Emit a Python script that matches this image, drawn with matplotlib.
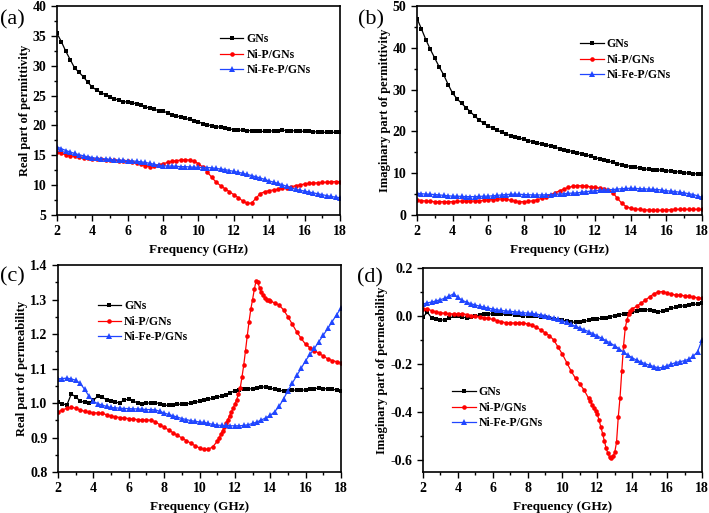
import matplotlib
matplotlib.use("Agg")
import matplotlib.pyplot as plt
import numpy as np
from matplotlib.ticker import MultipleLocator

plt.rcParams['font.family'] = 'Liberation Serif'
plt.rcParams['axes.unicode_minus'] = False

# common frequency grid (GHz)
freq = np.arange(8, 73) / 4.0
# finer grids where the Ni-P curves change fast
freq_nip_c = np.r_[np.arange(8, 44) / 4.0, np.arange(110, 140) / 10.0, np.arange(56, 73) / 4.0]
freq_nip_d = np.r_[np.arange(8, 46) / 4.0, np.arange(115, 140) / 10.0, np.arange(56, 73) / 4.0]

labels = ['GNs', 'Ni-P/GNs', 'Ni-Fe-P/GNs']

# (a) real part of permittivity
eps_re_gns = [35.4, 34.0, 32.4, 31.0, 29.6, 28.9, 28.1, 27.2,
              26.4, 25.9, 25.5, 25.1, 24.8, 24.5, 24.2, 24.0,
              23.9, 23.8, 23.6, 23.4, 23.1, 22.9, 22.7, 22.5,
              22.4, 22.1, 21.8, 21.6, 21.4, 21.2, 21.0, 20.8,
              20.6, 20.3, 20.1, 19.95, 19.8, 19.7, 19.55, 19.4,
              19.3, 19.2, 19.2, 19.15, 19.1, 19.05, 19.0, 19.0,
              19.05, 19.1, 19.15, 19.2, 19.15, 19.1, 19.1, 19.05,
              19.0, 19.0, 18.95, 18.9, 18.85, 18.85, 18.85, 18.85,
              18.9]
eps_re_nip = [15.5, 15.3, 15.1, 14.95, 14.8, 14.7, 14.6, 14.5,
              14.4, 14.35, 14.3, 14.25, 14.2, 14.15, 14.1, 14.05,
              14.0, 13.9, 13.75, 13.5, 13.25, 13.1, 13.2, 13.4,
              13.6, 13.8, 14.0, 14.1, 14.2, 14.25, 14.2, 14.0,
              13.6, 13.0, 12.2, 11.3, 10.5, 9.9, 9.4, 8.9,
              8.4, 7.9, 7.35, 6.95, 7.0, 7.8, 8.6, 8.9,
              9.1, 9.2, 9.3, 9.45, 9.6, 9.75, 9.9, 10.05,
              10.2, 10.3, 10.35, 10.4, 10.45, 10.5, 10.55, 10.6,
              10.6]
eps_re_nifep = [16.4, 16.1, 15.8, 15.55, 15.3, 15.1, 14.9, 14.75,
                14.6, 14.5, 14.45, 14.4, 14.3, 14.25, 14.2, 14.15,
                14.1, 14.05, 14.0, 13.9, 13.8, 13.65, 13.5, 13.35,
                13.25, 13.2, 13.2, 13.15, 13.1, 13.1, 13.05, 13.0,
                13.0, 12.95, 12.95, 12.9, 12.8, 12.7, 12.6, 12.45,
                12.3, 12.15, 12.0, 11.8, 11.6, 11.4, 11.2, 10.95,
                10.7, 10.5, 10.3, 10.05, 9.8, 9.55, 9.3, 9.15,
                9.0, 8.85, 8.7, 8.55, 8.4, 8.25, 8.1, 8.0,
                7.9]

# (b) imaginary part of permittivity
eps_im_gns = [47.0, 44.5, 41.9, 39.6, 37.5, 35.4, 33.5, 31.2,
              29.1, 27.8, 26.7, 25.7, 24.7, 23.6, 22.7, 21.9,
              21.3, 20.8, 20.3, 19.8, 19.3, 19.0, 18.7, 18.4,
              18.1, 17.8, 17.5, 17.2, 17.0, 16.8, 16.5, 16.2,
              15.9, 15.65, 15.4, 15.15, 14.9, 14.65, 14.4, 14.05,
              13.7, 13.45, 13.2, 12.9, 12.6, 12.3, 12.0, 11.8,
              11.6, 11.4, 11.2, 11.05, 10.9, 10.85, 10.8, 10.7,
              10.6, 10.5, 10.4, 10.25, 10.1, 10.0, 9.9, 9.8,
              9.7]
eps_im_nip = [3.6, 3.45, 3.35, 3.25, 3.2, 3.2, 3.2, 3.2,
              3.2, 3.25, 3.3, 3.3, 3.3, 3.35, 3.4, 3.5,
              3.6, 3.7, 3.8, 3.85, 3.8, 3.55, 3.35, 3.2,
              3.2, 3.25, 3.4, 3.65, 4.0, 4.4, 4.8, 5.3,
              5.8, 6.2, 6.6, 6.85, 7.0, 7.0, 6.9, 6.75,
              6.6, 6.45, 6.3, 5.9, 5.3, 4.0, 2.8, 2.0,
              1.6, 1.45, 1.35, 1.25, 1.2, 1.1, 1.1, 1.15,
              1.2, 1.3, 1.35, 1.35, 1.35, 1.35, 1.35, 1.35,
              1.35]
eps_im_nifep = [5.2, 5.1, 5.0, 4.95, 4.9, 4.8, 4.7, 4.6,
                4.5, 4.5, 4.45, 4.4, 4.4, 4.4, 4.45, 4.5,
                4.5, 4.6, 4.7, 4.8, 4.9, 4.95, 5.0, 4.95,
                4.9, 4.85, 4.8, 4.8, 4.8, 4.85, 4.9, 4.95,
                5.0, 5.1, 5.2, 5.25, 5.3, 5.45, 5.6, 5.7,
                5.8, 5.9, 6.0, 6.05, 6.1, 6.2, 6.3, 6.35,
                6.4, 6.35, 6.3, 6.25, 6.2, 6.15, 6.1, 5.95,
                5.8, 5.7, 5.6, 5.45, 5.3, 5.1, 4.9, 4.6,
                4.2]

# (c) real part of permeability
mu_re_gns = [1.004, 0.998, 0.994, 1.026, 1.018, 1.006, 1.002, 0.999,
             1.008, 1.02, 1.016, 1.01, 1.006, 1.002, 1.001, 1.009,
             1.011, 1.007, 0.999, 0.996, 0.999, 1.001, 1.001, 0.998,
             0.994, 0.993, 0.994, 0.996, 0.997, 0.998, 0.999, 1.002,
             1.005, 1.008, 1.011, 1.014, 1.017, 1.02, 1.024, 1.03,
             1.036, 1.039, 1.041, 1.04, 1.042, 1.044, 1.046, 1.047,
             1.043, 1.04, 1.037, 1.035, 1.036, 1.037, 1.038, 1.037,
             1.038, 1.04, 1.042, 1.043, 1.042, 1.041, 1.04, 1.038,
             1.035]
mu_re_nip = [0.974, 0.98, 0.985, 0.988, 0.985, 0.98, 0.976, 0.973,
             0.972, 0.971, 0.97, 0.966, 0.962, 0.96, 0.958, 0.956,
             0.955, 0.953, 0.952, 0.951, 0.951, 0.95, 0.946, 0.937,
             0.93, 0.922, 0.914, 0.906, 0.899, 0.891, 0.884, 0.876,
             0.87, 0.866, 0.866, 0.873,
             0.889, 0.898, 0.909, 0.92, 0.93, 0.941, 0.952, 0.963, 0.974, 0.985,
             0.997, 1.01, 1.025, 1.043, 1.075, 1.11, 1.152, 1.195, 1.236, 1.272,
             1.3, 1.33, 1.355, 1.35, 1.333, 1.322, 1.312, 1.305, 1.3, 1.298,
             1.296, 1.29, 1.284, 1.27, 1.25, 1.228, 1.206, 1.187,
             1.17, 1.16, 1.152, 1.144, 1.136, 1.128, 1.123, 1.12,
             1.117]
mu_re_nifep = [1.07, 1.071, 1.072, 1.07, 1.066, 1.057, 1.04, 1.02,
               1.005, 0.998, 0.994, 0.99, 0.987, 0.986, 0.985, 0.984,
               0.984, 0.983, 0.983, 0.982, 0.981, 0.981, 0.98, 0.976,
               0.971, 0.967, 0.963, 0.959, 0.955, 0.952, 0.949, 0.947,
               0.945, 0.944, 0.941, 0.938, 0.936, 0.935, 0.935, 0.934,
               0.934, 0.934, 0.935, 0.937, 0.941, 0.945, 0.951, 0.957,
               0.964, 0.975, 0.99, 1.012, 1.036, 1.058, 1.08, 1.101,
               1.123, 1.141, 1.159, 1.178, 1.197, 1.216, 1.236, 1.256,
               1.275]

# (d) imaginary part of permeability
mu_im_gns = [-0.004, 0.015, -0.008, -0.014, -0.018, -0.015, -0.01, -0.002,
             -0.002, -0.005, -0.007, -0.004, -0.002, 0.006, 0.008, 0.009,
             0.008, 0.007, 0.008, 0.007, 0.007, 0.005, 0.004, 0.002,
             0.002, 0.0, -0.001, -0.003, -0.006, -0.01, -0.013, -0.016,
             -0.018, -0.021, -0.024, -0.027, -0.025, -0.022, -0.018, -0.014,
             -0.012, -0.01, -0.007, -0.003, 0.002, 0.006, 0.008, 0.01,
             0.015, 0.02, 0.024, 0.026, 0.026, 0.022, 0.018, 0.02,
             0.026, 0.032, 0.037, 0.04, 0.043, 0.046, 0.048, 0.05,
             0.053]
mu_im_nip = [0.028, 0.03, 0.022, 0.017, 0.014, 0.011, 0.009, 0.009,
             0.009, 0.01, 0.006, 0.002, -0.002, -0.004, -0.007, -0.01,
             -0.014, -0.019, -0.024, -0.028, -0.029, -0.029, -0.028, -0.029,
             -0.033, -0.039, -0.047, -0.058, -0.07, -0.082, -0.1, -0.13,
             -0.16, -0.195, -0.23, -0.26, -0.283, -0.31,
             -0.343, -0.356, -0.369, -0.382, -0.395,
             -0.41, -0.435, -0.462, -0.49, -0.52, -0.55, -0.572, -0.587, -0.59, -0.585,
             -0.567, -0.525, -0.42, -0.34, -0.23, -0.125, -0.05, -0.015, 0.008, 0.02,
             0.03, 0.04, 0.053, 0.066, 0.08, 0.093, 0.1, 0.102,
             0.096, 0.09, 0.088, 0.087, 0.084, 0.082, 0.079, 0.076,
             0.074]
mu_im_nifep = [0.05, 0.055, 0.058, 0.063, 0.068, 0.074, 0.083, 0.092,
               0.078, 0.065, 0.058, 0.051, 0.046, 0.041, 0.037, 0.033,
               0.029, 0.026, 0.023, 0.021, 0.019, 0.018, 0.016, 0.014,
               0.012, 0.011, 0.008, 0.005, 0.002, -0.003, -0.008, -0.014,
               -0.02, -0.027, -0.035, -0.043, -0.05, -0.058, -0.065, -0.074,
               -0.083, -0.093, -0.103, -0.113, -0.124, -0.137, -0.15, -0.163,
               -0.174, -0.184, -0.192, -0.199, -0.205, -0.211, -0.216, -0.214,
               -0.207, -0.2, -0.194, -0.19, -0.186, -0.18, -0.168, -0.148,
               -0.1]

colors = ['black', '#ff0000', '#2046ff']
markers = ['s', 'o', '^']
msizes = [3.1, 3.3, 3.8]


def panel(rect, series, ylim, ymajor, ylabel, tag, tagpos, legpos, yfmt=None):
    ax = fig.add_axes(rect)
    for (x, y), c, m, ms, lab in zip(series, colors, markers, msizes, labels):
        ax.plot(x, y, color=c, lw=0.9, marker=m, ms=ms, mew=0, label=lab)
    ax.set_xlim(2, 18)
    ax.set_ylim(*ylim)
    ax.xaxis.set_major_locator(MultipleLocator(2))
    ax.xaxis.set_minor_locator(MultipleLocator(1))
    ax.yaxis.set_major_locator(MultipleLocator(ymajor))
    ax.yaxis.set_minor_locator(MultipleLocator(ymajor / 2))
    if yfmt:
        ax.yaxis.set_major_formatter(yfmt)
    ax.tick_params(which='major', direction='out', length=4, width=1,
                   labelsize=10)
    ax.tick_params(which='minor', direction='out', length=2, width=1)
    for lbl in ax.get_xticklabels() + ax.get_yticklabels():
        lbl.set_fontweight('bold')
    for s in ax.spines.values():
        s.set_linewidth(1.2)
    ax.set_xlabel('Frequency (GHz)', fontsize=9.5, fontweight='bold', labelpad=4)
    ax.set_ylabel(ylabel, fontsize=9, fontweight='bold', labelpad=1.5)
    ax.legend(loc='upper left', bbox_to_anchor=legpos, frameon=False,
              prop={'weight': 'bold', 'size': 8.5}, handlelength=2.0,
              handletextpad=0.25, labelspacing=0.3, borderpad=0,
              borderaxespad=0)
    fig.text(tagpos[0], tagpos[1], tag, fontsize=16, va='center', ha='left')
    return ax


fig = plt.figure(figsize=(7.09, 5.13), dpi=100)

panel([0.0804, 0.5809, 0.3991, 0.4074],
      [(freq, eps_re_gns), (freq, eps_re_nip), (freq, eps_re_nifep)],
      (5, 40), 5, 'Real part of permittivity', '(a)', (0.0, 0.962),
      (0.575, 0.87))

panel([0.5882, 0.5809, 0.4019, 0.4074],
      [(freq, eps_im_gns), (freq, eps_im_nip), (freq, eps_im_nifep)],
      (0, 50), 10, 'Imaginary part of permittivity', '(b)', (0.505, 0.962),
      (0.572, 0.845))

panel([0.0818, 0.0799, 0.3992, 0.4035],
      [(freq, mu_re_gns), (freq_nip_c, mu_re_nip), (freq, mu_re_nifep)],
      (0.8, 1.4), 0.1, 'Real part of permeability', '(c)', (0.0, 0.46),
      (0.14, 0.83), yfmt='{x:.1f}')

panel([0.5966, 0.0799, 0.3935, 0.3977],
      [(freq, mu_im_gns), (freq_nip_d, mu_im_nip), (freq, mu_im_nifep)],
      (-0.65, 0.2), 0.2, 'Imaginary part of permeability', '(d)', (0.503, 0.458),
      (0.105, 0.42), yfmt='{x:.1f}')

fig.savefig('out.png', dpi=100)
